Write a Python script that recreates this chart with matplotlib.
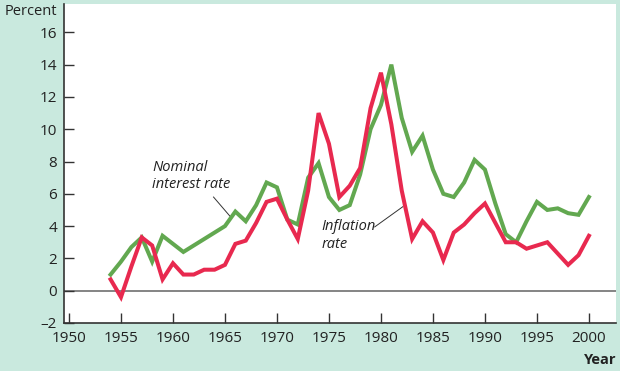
import matplotlib.pyplot as plt

years = list(range(1954, 2001))
nominal = [1.0, 1.8, 2.7, 3.3, 1.8, 3.4, 2.9, 2.4, 2.8, 3.2, 3.6, 4.0,
           4.9, 4.3, 5.3, 6.7, 6.4, 4.4, 4.1, 7.0, 7.9, 5.8, 5.0, 5.3,
           7.2, 10.0, 11.5, 14.0, 10.7, 8.6, 9.6, 7.5, 6.0, 5.8, 6.7,
           8.1, 7.5, 5.4, 3.5, 3.0, 4.3, 5.5, 5.0, 5.1, 4.8, 4.7, 5.8]
inflation = [0.7, -0.4, 1.5, 3.3, 2.8, 0.7, 1.7, 1.0, 1.0, 1.3, 1.3, 1.6,
             2.9, 3.1, 4.2, 5.5, 5.7, 4.4, 3.2, 6.2, 11.0, 9.1, 5.8, 6.5,
             7.6, 11.3, 13.5, 10.3, 6.2, 3.2, 4.3, 3.6, 1.9, 3.6, 4.1,
             4.8, 5.4, 4.2, 3.0, 3.0, 2.6, 2.8, 3.0, 2.3, 1.6, 2.2, 3.4]
xticks = list(range(1950, 2001, 5))
yticks = list(range(-2, 17, 2))

plt.rcParams['font.family'] = ['Open Sans', 'DejaVu Sans']

bg = '#c9e9de'
fig = plt.figure(figsize=(6.2, 3.71), dpi=100, facecolor=bg)
ax = fig.add_axes([0.1032, 0.1294, 0.8903, 0.8596])
ax.set_facecolor('white')

ax.axhline(0, color='#707070', lw=1.2, zorder=1)
ax.plot(years, nominal, color='#62a850', lw=2.9, solid_joinstyle='miter', zorder=3)
ax.plot(years, inflation, color='#e8294f', lw=2.9, solid_joinstyle='miter', zorder=4)

ax.set_xlim(1949.52, 2002.6)
ax.set_ylim(-2, 17.75)
ax.set_xticks(xticks)
ax.set_yticks(yticks)
ax.set_yticklabels(['\u20132' if v < 0 else str(v) for v in yticks])
ax.tick_params(direction='in', length=7, width=1, color='#333333',
               labelsize=11, labelcolor='#222222')
ax.tick_params(axis='y', pad=5)
ax.tick_params(axis='x', pad=6)

for s in ['top', 'right']:
    ax.spines[s].set_visible(False)
for s in ['left', 'bottom']:
    ax.spines[s].set_color('#333333')
    ax.spines[s].set_linewidth(1.2)

fig.text(0.008, 0.99, 'Percent', fontsize=10.5, ha='left', va='top', color='#222222')
fig.text(0.995, 0.012, 'Year', fontsize=10.5, fontweight='bold', ha='right',
         va='bottom', color='#222222')

ax.text(1958.0, 8.1, 'Nominal\ninterest rate', fontsize=10.5, style='italic',
        ha='left', va='top', linespacing=1.15, color='#222222')
ax.plot([1963.9, 1965.5], [5.8, 4.6], color='#333333', lw=0.7, zorder=2)

ax.text(1974.3, 4.45, 'Inflation\nrate', fontsize=10.5, style='italic',
        ha='left', va='top', linespacing=1.25, color='#222222')
ax.plot([1979.4, 1982.1], [3.95, 5.2], color='#333333', lw=0.7, zorder=2)

fig.savefig('out.png', dpi=100, facecolor=bg)
